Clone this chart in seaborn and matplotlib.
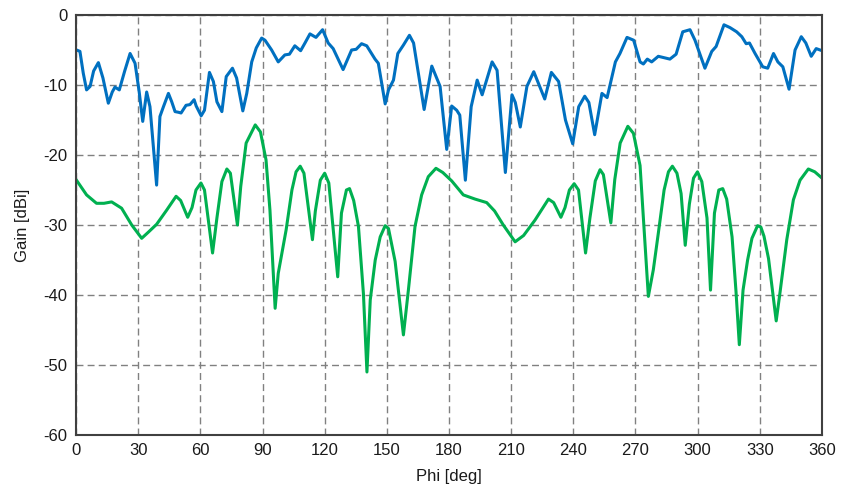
import pandas as pd
import matplotlib
matplotlib.use("Agg")
import matplotlib.pyplot as plt
import seaborn as sns

# Gain pattern vs phi
blue_phi = [0.3, 1.9, 3.5, 5.1, 6.8, 8.5, 10.8, 13.0, 15.6, 17.5, 18.8, 20.9, 23.5, 26.1, 28.5,
            30.5, 32.2, 34.1, 35.7, 38.9, 40.5, 42.2, 44.6, 46.2, 47.8, 49.5, 50.7, 53.1, 55.0,
            57.0, 58.0, 60.4, 62.0, 64.4, 66.3, 68.0, 70.4, 72.5, 75.5, 77.5, 80.5, 82.4, 84.8,
            87.0, 89.6, 91.2, 94.4, 97.6, 100.8, 103.0, 105.6, 108.4, 110.5, 112.9, 115.8, 119.0,
            121.7, 124.1, 128.9, 133.0, 135.2, 137.8, 140.3, 144.3, 145.9, 149.2, 150.8, 153.2,
            155.3, 158.0, 160.9, 162.9, 168.0, 171.7, 175.7, 178.9, 181.3, 183.7, 185.2, 187.9,
            190.7, 193.6, 196.0, 200.8, 203.2, 207.2, 210.4, 212.0, 214.4, 217.6, 220.9, 226.2,
            229.4, 232.9, 236.2, 239.7, 242.6, 245.5, 247.5, 250.3, 253.8, 256.3, 260.3, 262.5,
            265.9, 269.1, 272.2, 273.8, 275.7, 277.8, 281.0, 286.6, 289.6, 292.8, 296.3, 298.7,
            303.5, 306.8, 308.9, 312.7, 315.6, 318.8, 321.3, 323.4, 325.0, 327.7, 331.4, 333.8,
            336.6, 338.7, 341.1, 344.1, 347.0, 350.0, 352.2, 354.8, 357.2, 360.0]
blue_gain = [-5.0, -5.2, -8.3, -10.7, -10.2, -8.0, -6.8, -9.0, -12.6, -11.0, -10.3, -10.7, -8.0,
             -5.5, -6.9, -11.0, -15.2, -11.0, -13.1, -24.3, -14.5, -13.1, -11.2, -12.4, -13.8,
             -13.9, -14.0, -12.9, -12.8, -12.1, -13.0, -14.4, -13.6, -8.2, -9.5, -12.4, -13.8,
             -8.8, -7.6, -9.0, -13.7, -11.2, -6.7, -4.7, -3.3, -3.6, -5.0, -6.7, -5.7, -5.6, -4.4,
             -5.1, -4.0, -2.7, -3.2, -2.1, -4.0, -4.8, -7.8, -5.0, -4.9, -4.1, -4.4, -6.3, -6.9,
             -12.7, -10.7, -9.3, -5.5, -4.3, -2.9, -4.0, -13.5, -7.3, -10.2, -19.2, -13.0, -13.6,
             -14.3, -23.6, -13.1, -9.3, -11.4, -6.7, -7.9, -22.5, -11.4, -12.5, -16.0, -10.2,
             -8.1, -12.0, -8.2, -9.5, -15.0, -18.4, -13.1, -11.6, -12.5, -17.1, -11.2, -11.8,
             -6.7, -5.5, -3.2, -3.6, -6.7, -7.0, -6.3, -6.7, -5.9, -6.3, -5.6, -2.4, -2.1, -3.6,
             -7.6, -5.2, -4.5, -1.4, -1.8, -2.4, -3.1, -4.1, -4.0, -5.5, -7.4, -7.6, -5.5, -6.7,
             -7.4, -10.6, -5.0, -3.1, -4.0, -5.9, -4.8, -5.1]

green_phi = [0.0, 5.1, 9.9, 13.5, 17.2, 22.0, 26.9, 31.7, 35.0, 38.9, 43.7, 48.3, 50.5, 53.9, 56.0,
             57.9, 60.3, 62.0, 65.9, 68.0, 70.4, 72.8, 74.5, 77.9, 79.5, 82.1, 86.5, 89.0, 91.7,
             93.6, 96.1, 97.6, 101.4, 104.2, 106.2, 108.2, 110.0, 114.1, 115.5, 117.9, 120.0,
             122.0, 126.3, 128.1, 130.5, 132.0, 134.0, 136.3, 138.7, 140.4, 142.0, 144.4, 146.8,
             149.2, 150.8, 154.0, 158.0, 160.4, 163.6, 166.8, 170.0, 173.7, 177.0, 181.3, 186.9,
             192.6, 198.2, 202.0, 206.2, 211.9, 216.0, 221.5, 228.0, 230.5, 234.0, 236.0, 238.1,
             240.4, 242.5, 245.9, 248.0, 250.6, 252.9, 254.5, 258.1, 260.0, 262.6, 266.3, 269.0,
             272.2, 274.0, 276.2, 278.6, 281.0, 283.8, 285.9, 287.8, 290.0, 292.0, 294.0, 296.0,
             298.0, 299.9, 302.0, 304.5, 306.2, 308.1, 310.2, 312.1, 314.0, 316.6, 318.5, 320.1,
             321.9, 324.1, 326.2, 328.9, 330.5, 332.0, 334.2, 337.9, 339.8, 343.0, 346.2, 349.4,
             353.4, 356.5, 360.0]
green_gain = [-23.5, -25.7, -26.9, -26.9, -26.7, -27.6, -30.0, -31.9, -31.0, -29.9, -27.9, -25.9, -26.5,
              -28.9, -27.5, -25.0, -24.0, -25.0, -34.0, -29.0, -23.8, -22.0, -22.6, -30.0, -24.5,
              -18.3, -15.7, -16.7, -20.7, -27.9, -41.9, -36.9, -30.7, -25.0, -22.4, -21.6, -22.6,
              -32.1, -28.0, -23.6, -22.6, -24.0, -37.4, -28.3, -25.0, -24.8, -26.5, -30.2, -39.8,
              -51.0, -40.7, -35.0, -31.7, -30.1, -30.5, -35.2, -45.7, -39.3, -30.2, -25.7, -23.1,
              -21.9, -22.5, -23.7, -25.7, -26.3, -26.8, -28.0, -30.0, -32.4, -31.5, -29.3, -26.3,
              -26.8, -28.9, -27.5, -25.0, -24.1, -25.0, -34.0, -29.0, -23.7, -22.1, -22.8, -29.7,
              -23.5, -18.3, -15.9, -16.9, -21.5, -30.0, -40.2, -36.4, -31.2, -25.0, -22.4, -21.6,
              -22.6, -25.5, -32.9, -27.0, -23.3, -22.4, -23.8, -29.0, -39.3, -28.3, -25.0, -24.8,
              -26.3, -31.7, -39.5, -47.1, -39.3, -35.0, -31.9, -30.1, -30.3, -31.6, -34.8, -43.7,
              -39.5, -32.1, -26.4, -23.6, -22.0, -22.4, -23.3]

x_ticks = [0, 30, 60, 90, 120, 150, 180, 210, 240, 270, 300, 330, 360]
y_ticks = [0, -10, -20, -30, -40, -50, -60]

blue_df = pd.DataFrame({"phi": blue_phi, "gain": blue_gain})
green_df = pd.DataFrame({"phi": green_phi, "gain": green_gain})

sns.set_theme(style="white")
plt.rcParams["font.family"] = ["Liberation Sans", "DejaVu Sans"]
plt.rcParams["axes.unicode_minus"] = False

fig = plt.figure(figsize=(8.42, 4.97), dpi=100)
ax = fig.add_axes([76 / 842, 1 - 435 / 497, 746 / 842, 420 / 497])

for d, c in [(blue_df, "#0070C0"), (green_df, "#00B050")]:
    sns.lineplot(data=d, x="phi", y="gain", ax=ax, color=c, linewidth=2.2,
                 sort=False, estimator=None, solid_joinstyle="round",
                 solid_capstyle="round")

ax.set_xlim(0, 360)
ax.set_ylim(-60, 0)
ax.set_xticks(x_ticks)
ax.set_yticks(y_ticks)
ax.set_xticklabels([str(t) for t in x_ticks])
ax.set_yticklabels([str(t) for t in y_ticks])
ax.grid(True, color="#808080", linestyle=(0, (5, 3)), linewidth=1.0)
ax.tick_params(length=0, labelsize=12, colors="#1a1a1a", pad=6)
for s in ax.spines.values():
    s.set_color("#404040")
    s.set_linewidth(1.5)

ax.set_xlabel("Phi [deg]", fontsize=12, color="#1a1a1a", labelpad=8)
ax.set_ylabel("Gain [dBi]", fontsize=12, color="#1a1a1a", labelpad=10)

fig.savefig("out.png", dpi=100)
